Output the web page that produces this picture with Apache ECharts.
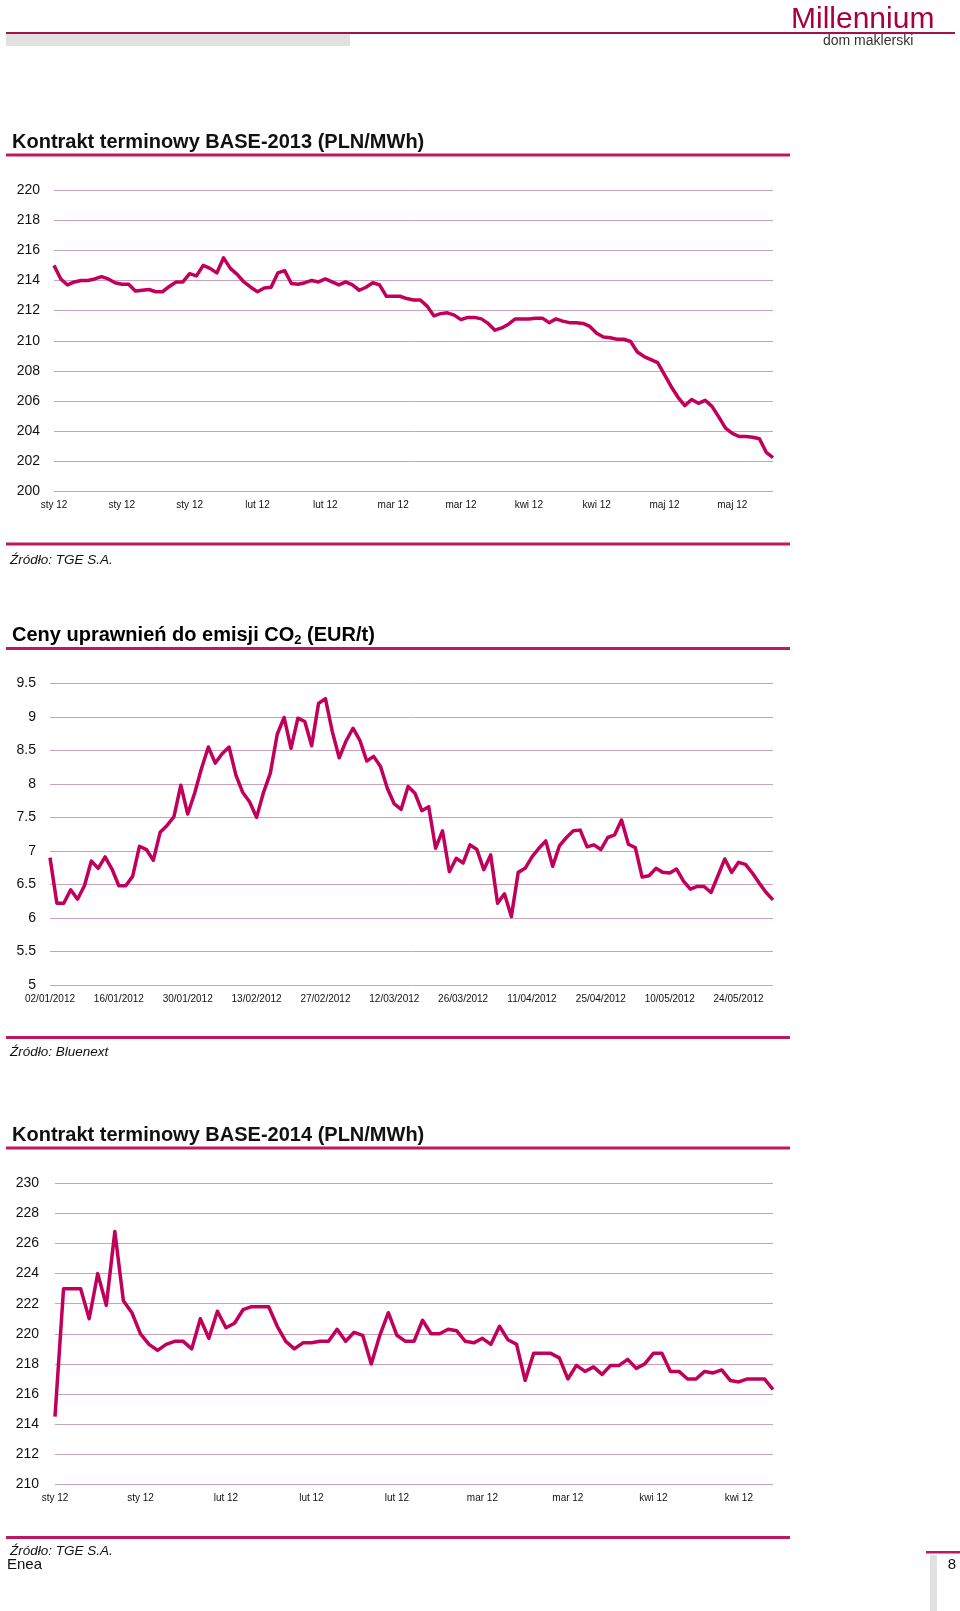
<!DOCTYPE html>
<html><head><meta charset="utf-8">
<script src="https://cdn.jsdelivr.net/npm/echarts@6/dist/echarts.min.js"></script>
<style>html,body{margin:0;padding:0;background:#fff}#c{width:960px;height:1611px}</style>
</head><body><div id="c"></div><script>
// ---- Chart 1: Kontrakt terminowy BASE-2013 (PLN/MWh)
const ticks1 = ['sty 12','sty 12','sty 12','lut 12','lut 12','mar 12','mar 12','kwi 12','kwi 12','maj 12','maj 12'];
const base2013 = [215.0,214.1,213.7,213.9,214.0,214.0,214.1,214.25,214.1,213.85,
  213.75,213.75,213.3,213.35,213.4,213.25,213.25,213.6,213.9,213.9,
  214.45,214.3,215.0,214.8,214.5,215.5,214.8,214.4,213.9,213.55,
  213.25,213.5,213.55,214.5,214.65,213.8,213.75,213.85,214.0,213.9,
  214.1,213.9,213.7,213.9,213.7,213.35,213.55,213.85,213.7,212.95,
  212.95,212.95,212.8,212.7,212.7,212.3,211.65,211.8,211.85,211.7,
  211.4,211.55,211.55,211.45,211.15,210.7,210.85,211.1,211.45,211.45,
  211.45,211.5,211.5,211.2,211.45,211.3,211.2,211.2,211.15,210.95,
  210.5,210.25,210.2,210.1,210.1,209.95,209.25,208.95,208.75,208.55,
  207.75,206.95,206.25,205.7,206.1,205.85,206.05,205.65,204.95,204.2,
  203.85,203.65,203.65,203.6,203.5,202.6,202.25];
// ---- Chart 2: Ceny uprawnień do emisji CO2 (EUR/t)
const ticks2 = ['02/01/2012','16/01/2012','30/01/2012','13/02/2012','27/02/2012','12/03/2012','26/03/2012','11/04/2012','25/04/2012','10/05/2012','24/05/2012'];
const co2 = [6.90,6.22,6.22,6.42,6.28,6.48,6.85,6.74,6.91,6.73,
  6.48,6.48,6.62,7.07,7.02,6.86,7.28,7.38,7.51,7.98,
  7.55,7.86,8.23,8.55,8.31,8.45,8.55,8.13,7.87,7.73,
  7.50,7.87,8.16,8.74,8.99,8.53,8.98,8.93,8.57,9.20,
  9.27,8.78,8.39,8.64,8.83,8.65,8.34,8.41,8.26,7.93,
  7.70,7.62,7.96,7.86,7.60,7.66,7.04,7.30,6.69,6.89,
  6.82,7.09,7.02,6.72,6.94,6.22,6.36,6.02,6.68,6.74,
  6.91,7.04,7.15,6.77,7.08,7.20,7.30,7.31,7.06,7.09,
  7.02,7.20,7.24,7.46,7.10,7.05,6.61,6.63,6.74,6.68,
  6.67,6.73,6.55,6.43,6.47,6.47,6.38,6.63,6.88,6.68,
  6.83,6.80,6.67,6.52,6.38,6.27];
// ---- Chart 3: Kontrakt terminowy BASE-2014 (PLN/MWh)
const ticks3 = ['sty 12','sty 12','lut 12','lut 12','lut 12','mar 12','mar 12','kwi 12','kwi 12'];
const base2014 = [214.5,223.0,223.0,223.0,221.0,224.0,221.9,226.8,222.2,221.4,
  220.0,219.3,218.9,219.3,219.5,219.5,219.0,221.0,219.7,221.5,
  220.4,220.7,221.6,221.8,221.8,221.8,220.5,219.5,219.0,219.4,
  219.4,219.5,219.5,220.3,219.5,220.1,219.9,218.0,219.9,221.4,
  219.9,219.5,219.5,220.9,220.0,220.0,220.3,220.2,219.5,219.4,
  219.7,219.3,220.5,219.6,219.3,216.9,218.7,218.7,218.7,218.4,
  217.0,217.9,217.5,217.8,217.3,217.9,217.9,218.3,217.7,218.0,
  218.7,218.7,217.5,217.5,217.0,217.0,217.5,217.4,217.6,216.9,
  216.8,217.0,217.0,217.0,216.3];

const FONT = '"Liberation Sans", Arial, Helvetica, sans-serif';
const LINE = '#c1005b';
const GRIDC = '#caa3ba';
const RED = '#c0185e';

const panels = [
  {data: base2013, ticks: ticks1, grid: {left: 54, top: 190, width: 719, height: 301.5}, min: 200, max: 220, interval: 2, ymargin: 14},
  {data: co2, ticks: ticks2, grid: {left: 50, top: 683.3, width: 723, height: 301.7}, min: 5, max: 9.5, interval: 0.5, ymargin: 14},
  {data: base2014, ticks: ticks3, grid: {left: 55, top: 1183.3, width: 718, height: 301}, min: 210, max: 230, interval: 2, ymargin: 16}
];

const grids = [], xAxes = [], yAxes = [], series = [];
panels.forEach((p, k) => {
  grids.push(Object.assign({containLabel: false}, p.grid));
  xAxes.push({
    type: 'category', gridIndex: k, boundaryGap: false,
    data: p.data.map((_, i) => String(i)),
    axisLine: {show: false}, axisTick: {show: false}, splitLine: {show: false},
    axisLabel: {interval: 9, margin: 9, fontSize: 10, color: '#111', fontFamily: FONT,
      formatter: (v, i) => (i % 10 === 0 && p.ticks[i / 10] !== undefined) ? p.ticks[i / 10] : ''}
  });
  yAxes.push({
    type: 'value', gridIndex: k, min: p.min, max: p.max, interval: p.interval,
    axisLine: {show: false}, axisTick: {show: false},
    splitLine: {show: true, lineStyle: {color: GRIDC, width: 1}},
    axisLabel: {margin: p.ymargin, fontSize: 14, color: '#111', fontFamily: FONT}
  });
  series.push({
    type: 'line', xAxisIndex: k, yAxisIndex: k, data: p.data, symbol: 'none',
    lineStyle: {color: LINE, width: 3.5, join: 'round'}, itemStyle: {color: LINE}, animation: false
  });
});

function txt(text, x, y, font, fill, align) {
  return {type: 'text', silent: true, style: {text: text, x: x, y: y, font: font, fill: fill || '#111',
    textAlign: align || 'left', textVerticalAlign: 'middle'}};
}
function rect(x, y, w, h, fill) {
  return {type: 'rect', silent: true, shape: {x: x, y: y, width: w, height: h}, style: {fill: fill}};
}
const titleFont = 'bold 20px ' + FONT;
const srcFont = 'italic 13.5px ' + FONT;

const graphics = [
  rect(6, 32, 949, 2, '#a8104a'),
  rect(6, 34, 344, 12, '#e1e1e1'),
  txt('Millennium', 791, 20, '30px ' + FONT, '#a8003f'),
  txt('dom maklerski', 823, 41.5, '14px ' + FONT, '#333'),
  txt('Kontrakt terminowy BASE-2013 (PLN/MWh)', 12, 142, titleFont, '#111'),
  rect(6, 153.5, 784, 3, RED),
  rect(6, 542.5, 784, 3, RED),
  txt('Źródło: TGE S.A.', 10, 560, srcFont, '#111'),
  {type: 'text', silent: true, style: {
    text: '{t|Ceny uprawnień do emisji CO}{s|2}{t| (EUR/t)}', x: 12, y: 635.5,
    textVerticalAlign: 'middle', textAlign: 'left',
    rich: {
      t: {fontSize: 20, fontWeight: 'bold', fontFamily: FONT, color: '#111', lineHeight: 22, verticalAlign: 'middle'},
      s: {fontSize: 13, fontWeight: 'bold', fontFamily: FONT, color: '#111', lineHeight: 13, verticalAlign: 'bottom'}
    }}},
  rect(6, 647, 784, 3, RED),
  rect(6, 1036, 784, 3, RED),
  txt('Źródło: Bluenext', 10, 1052.5, srcFont, '#111'),
  txt('Kontrakt terminowy BASE-2014 (PLN/MWh)', 12, 1135, titleFont, '#111'),
  rect(6, 1146.5, 784, 3, RED),
  rect(6, 1536, 784, 3, RED),
  txt('Źródło: TGE S.A.', 10, 1551.5, srcFont, '#111'),
  txt('Enea', 7, 1564.5, '15px ' + FONT, '#111'),
  rect(926, 1551, 34, 2.5, RED),
  rect(930, 1555, 7, 56, '#e1e1e1'),
  txt('8', 952, 1564.5, '15px ' + FONT, '#111', 'center')
];

const chart = echarts.init(document.getElementById('c'), null, {renderer: 'canvas'});
chart.setOption({
  animation: false,
  backgroundColor: '#fff',
  grid: grids, xAxis: xAxes, yAxis: yAxes, series: series,
  graphic: graphics
});
</script></body></html>
